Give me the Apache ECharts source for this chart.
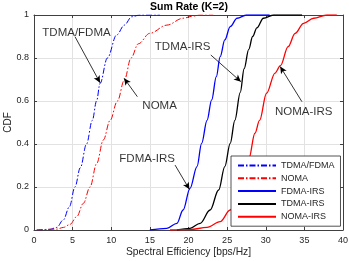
<!DOCTYPE html>
<html>
<head>
<meta charset="utf-8">
<script src="https://cdn.jsdelivr.net/npm/echarts@6/dist/echarts.min.js"></script>
<style>
html,body{margin:0;padding:0;background:#fff;}
#c{width:349px;height:261px;}
</style>
</head>
<body>
<div id="c"></div>
<script>
// ---- data ----
const seriesNames = ['TDMA/FDMA', 'NOMA', 'FDMA-IRS', 'TDMA-IRS', 'NOMA-IRS'];

const tdmaFdmaX   = [0.35, 2.07, 2.94, 3.8, 4.58, 5.3, 6.0, 6.8, 7.55, 8.1, 8.55, 9.5, 10.7, 11.7, 12.65, 13.7, 16.3];
const tdmaFdmaCdf = [0, 0.003, 0.012, 0.047, 0.108, 0.2, 0.29, 0.4, 0.51, 0.6, 0.682, 0.8, 0.907, 0.953, 0.992, 1.0, 1.0];

const nomaX   = [0.35, 2.94, 3.8, 4.66, 5.53, 6.39, 7.25, 8.12, 8.98, 9.85, 10.8, 11.7, 12.56, 13.5, 15.0, 17.2, 19.3, 20.6, 21.5, 23.2];
const nomaCdf = [0, 0.004, 0.012, 0.026, 0.062, 0.124, 0.2, 0.31, 0.419, 0.51, 0.6, 0.698, 0.8, 0.866, 0.915, 0.953, 0.985, 0.995, 1.0, 1.0];

const fdmaIrsX   = [15.0, 17.2, 18.5, 19.3, 20.2, 21.1, 21.7, 22.4, 23.0, 23.6, 24.1, 24.7, 25.4, 26.3, 27.5, 30.5];
const fdmaIrsCdf = [0, 0.008, 0.031, 0.093, 0.194, 0.295, 0.403, 0.51, 0.605, 0.713, 0.806, 0.884, 0.946, 0.985, 1.0, 1.0];

const tdmaIrsX   = [18.5, 20.2, 21.5, 22.8, 23.9, 24.7, 25.4, 26.0, 26.7, 27.2, 27.8, 28.3, 28.85, 29.7, 31.0, 34.7];
const tdmaIrsCdf = [0, 0.008, 0.031, 0.093, 0.186, 0.295, 0.403, 0.51, 0.64, 0.75, 0.84, 0.9, 0.94, 0.985, 1.0, 1.0];

const nomaIrsX   = [17.6, 20.2, 22.4, 24.1, 25.4, 26.7, 27.8, 28.6, 29.2, 30.1, 31.2, 31.9, 32.9, 33.8, 34.9, 36.2, 37.9, 39.2];
const nomaIrsCdf = [0, 0.002, 0.012, 0.039, 0.093, 0.186, 0.33, 0.45, 0.51, 0.636, 0.73, 0.765, 0.853, 0.915, 0.961, 0.985, 1.0, 1.0];

const xTicks = [0, 5, 10, 15, 20, 25, 30, 35, 40];
const yTicks = [0, 0.2, 0.4, 0.6, 0.8, 1];

// annotations (data coordinates)
const annotText = ['TDMA/FDMA', 'NOMA', 'TDMA-IRS', 'NOMA-IRS', 'FDMA-IRS'];
const annotX    = [5.5, 16.26, 19.24, 34.91, 14.64];
const annotY    = [0.918, 0.577, 0.853, 0.55, 0.333];
const arrowFromX = [5.31, 13.38, 22.89, 34.68, 18.26];
const arrowFromY = [0.899, 0.62, 0.814, 0.597, 0.302];
const arrowToX   = [8.55, 11.66, 26.78, 31.87, 20.12];
const arrowToY   = [0.685, 0.706, 0.69, 0.76, 0.189];

// ---- build ----
const FONT = 'Liberation Sans, Arial, Helvetica, sans-serif';
const zip = (xs, ys) => xs.map((x, i) => [x, ys[i]]);

const lineDefs = [
  { name: seriesNames[0], data: zip(tdmaFdmaX, tdmaFdmaCdf), color: '#0000ff', type: [6, 2, 1.5, 2], width: 1 },
  { name: seriesNames[1], data: zip(nomaX, nomaCdf),         color: '#ff0000', type: [6, 2, 1.5, 2], width: 1 },
  { name: seriesNames[2], data: zip(fdmaIrsX, fdmaIrsCdf),   color: '#0000ff', type: 'solid', width: 1.3 },
  { name: seriesNames[3], data: zip(tdmaIrsX, tdmaIrsCdf),   color: '#000000', type: 'solid', width: 1.3 },
  { name: seriesNames[4], data: zip(nomaIrsX, nomaIrsCdf),   color: '#ff0000', type: 'solid', width: 1.3 }
];

const series = lineDefs.map(d => ({
  name: d.name,
  type: 'line',
  data: d.data,
  symbol: 'none',
  showSymbol: false,
  smooth: 0.35,
  smoothMonotone: 'x',
  color: d.color,
  lineStyle: { color: d.color, width: d.width, type: d.type },
  itemStyle: { color: d.color },
  animation: false,
  z: 3
}));

series.push({
  name: 'annot',
  type: 'scatter',
  data: annotText.map((t, i) => [annotX[i], annotY[i], t]),
  symbolSize: 1,
  itemStyle: { color: 'rgba(0,0,0,0)' },
  silent: true,
  animation: false,
  label: {
    show: true, position: 'inside',
    formatter: p => p.data[2],
    color: '#000', fontSize: 11.5, fontFamily: FONT
  },
  markLine: {
    silent: true,
    animation: false,
    symbol: ['none', 'arrow'],
    symbolSize: [5, 7],
    label: { show: false },
    lineStyle: { color: '#000', width: 0.8, type: 'solid' },
    data: arrowFromX.map((x, i) => [
      { coord: [x, arrowFromY[i]] },
      { coord: [arrowToX[i], arrowToY[i]] }
    ])
  },
  z: 5
});

const axisColor = '#404040';
const chart = echarts.init(document.getElementById('c'), null, { renderer: 'canvas' });
chart.setOption({
  animation: false,
  backgroundColor: '#fff',
  textStyle: { fontFamily: FONT },
  title: {
    text: 'Sum Rate (K=2)',
    left: 150, top: 0, padding: [2, 0, 0, 0],
    textStyle: { fontSize: 10.5, fontWeight: 'bold', color: '#000', fontFamily: FONT }
  },
  grid: { left: 34, right: 6, top: 15, bottom: 31, containLabel: false, outerBoundsMode: 'none' },
  legend: {
    data: seriesNames,
    orient: 'vertical',
    left: 231, top: 156,
    itemWidth: 38, itemHeight: 10, itemGap: 3.8,
    padding: [5, 6, 5, 6],
    backgroundColor: '#fff',
    borderColor: '#262626', borderWidth: 0.8,
    itemStyle: { opacity: 0 },
    textStyle: { fontSize: 9, color: '#262626', fontFamily: FONT },
    selectedMode: false
  },
  xAxis: [{
    type: 'value', min: 0, max: 40, interval: 5,
    name: 'Spectral Efficiency [bps/Hz]', nameLocation: 'middle', nameGap: 17,
    nameMoveOverlap: false,
    nameTextStyle: { fontSize: 10.3, color: '#262626', fontFamily: FONT },
    axisLine: { show: true, lineStyle: { color: axisColor, width: 1 } },
    axisTick: { show: true, inside: true, length: 3, lineStyle: { color: axisColor } },
    axisLabel: { fontSize: 9, color: '#262626', margin: 6, fontFamily: FONT,
      formatter: v => xTicks.includes(v) ? String(v) : '' },
    splitLine: { show: true, lineStyle: { color: '#e2e2e2', width: 1 } }
  }, {
    type: 'value', min: 0, max: 40, interval: 5, position: 'top',
    axisLine: { show: true, onZero: false, lineStyle: { color: axisColor, width: 1 } },
    axisTick: { show: true, inside: true, length: 3, lineStyle: { color: axisColor } },
    axisLabel: { show: false }, splitLine: { show: false }
  }],
  yAxis: [{
    type: 'value', min: 0, max: 1, interval: 0.2,
    name: 'CDF', nameLocation: 'middle', nameGap: 21, nameRotate: 90,
    nameMoveOverlap: false,
    nameTextStyle: { fontSize: 10, color: '#262626', fontFamily: FONT },
    axisLine: { show: true, onZero: false, lineStyle: { color: axisColor, width: 1 } },
    axisTick: { show: true, inside: true, length: 3, lineStyle: { color: axisColor } },
    axisLabel: { fontSize: 9, color: '#262626', margin: 5, fontFamily: FONT,
      formatter: v => { const t = yTicks.find(k => Math.abs(k - v) < 1e-9); return t === undefined ? '' : String(t); } },
    splitLine: { show: true, lineStyle: { color: '#e2e2e2', width: 1 } }
  }, {
    type: 'value', min: 0, max: 1, interval: 0.2, position: 'right',
    axisLine: { show: true, onZero: false, lineStyle: { color: axisColor, width: 1 } },
    axisTick: { show: true, inside: true, length: 3, lineStyle: { color: axisColor } },
    axisLabel: { show: false }, splitLine: { show: false }
  }],
  series: series
});
</script>
</body>
</html>
